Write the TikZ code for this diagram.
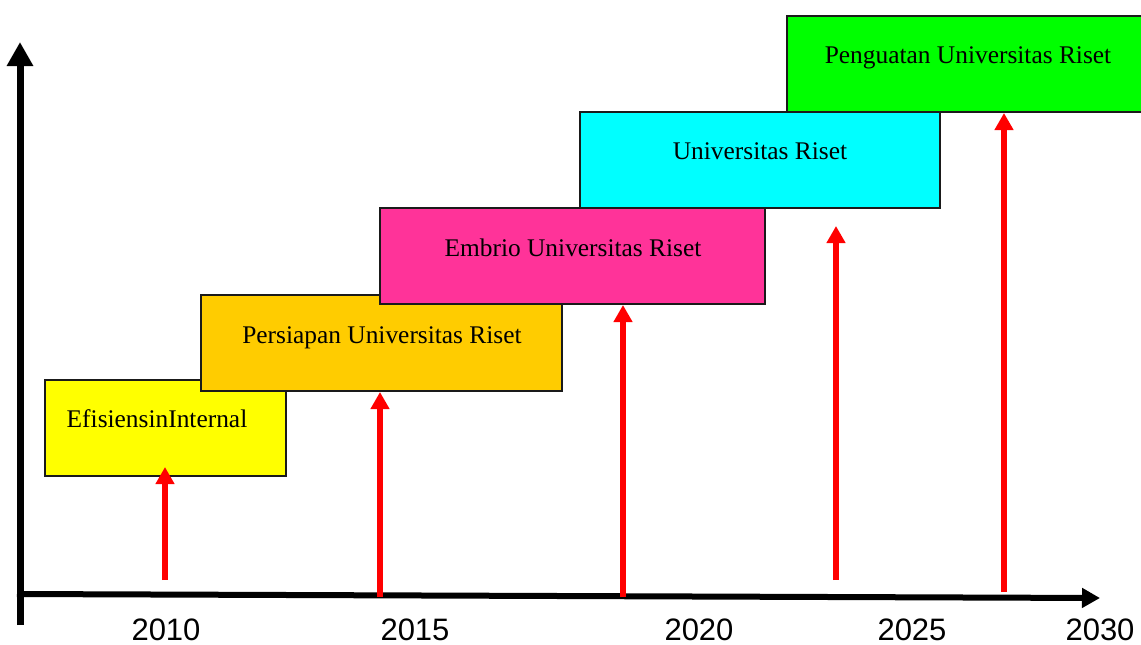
\documentclass[tikz,border=0pt]{standalone}
\usepackage{fontspec}
\setmainfont{Liberation Serif}
\newfontfamily\yearfont{Liberation Sans}
\usetikzlibrary{arrows.meta}
\definecolor{boxyellow}{HTML}{FFFF00}
\definecolor{boxorange}{HTML}{FFCC00}
\definecolor{boxpink}{HTML}{FF3399}
\definecolor{boxcyan}{HTML}{00FFFF}
\definecolor{boxgreen}{HTML}{00FF00}
\definecolor{edgecol}{HTML}{1A1A1A}
\definecolor{arrred}{HTML}{FF0000}
\tikzset{
  stagebox/.style={draw=edgecol, line width=2pt, rectangle, inner sep=0pt, outer sep=0pt, anchor=north west},
  stagelabel/.style={anchor=base, inner sep=0pt, font=\fontsize{25.4}{30}\selectfont, text=black},
  yearlabel/.style={anchor=base, inner sep=0pt, font=\yearfont\fontsize{31}{36}\selectfont, text=black},
  axisline/.style={line width=7pt, black},
  redarrow/.style={line width=5.5pt, arrred, -{Triangle[length=17pt,width=18pt]}}
}
\begin{document}
\begin{tikzpicture}[x=1pt,y=-1pt]
\useasboundingbox (0,0) rectangle (1141,645);
% axes
\coordinate (vbot) at (20,625);
\coordinate (vtop) at (20,42);
\coordinate (hleft) at (17,594);
\coordinate (hright) at (1100,598);
\draw[axisline, -{Triangle[length=24pt,width=25pt]}] (vbot) -- (vtop);
\draw[line width=6pt, black, -{Triangle[length=18pt,width=19pt]}] (hleft) -- (hright);
% year labels
\node[yearlabel] (y2010) at (166,640) {2010};
\node[yearlabel] (y2015) at (415,640) {2015};
\node[yearlabel] (y2020) at (699,640) {2020};
\node[yearlabel] (y2025) at (912,640) {2025};
\node[yearlabel] (y2030) at (1100,640) {2030};
% boxes
\node[stagebox, fill=boxyellow, minimum width=241pt, minimum height=96pt] (byel) at (45,380) {};
\node[stagebox, fill=boxorange, minimum width=361pt, minimum height=96pt] (bora) at (201,295) {};
\node[stagebox, fill=boxpink, minimum width=385pt, minimum height=96pt] (bpin) at (380,208) {};
\node[stagebox, fill=boxcyan, minimum width=360pt, minimum height=96pt] (bcya) at (580,112) {};
\node[stagebox, fill=boxgreen, minimum width=380pt, minimum height=96pt] (bgre) at (787,16) {};
% box labels
\node[stagelabel] (tyel) at (157,427) {EfisiensinInternal};
\node[stagelabel] (tora) at (382,343) {Persiapan Universitas Riset};
\node[stagelabel] (tpin) at (573,256) {Embrio Universitas Riset};
\node[stagelabel] (tcya) at (760,159) {Universitas Riset};
\node[stagelabel] (tgre) at (968,63) {Penguatan Universitas Riset};
% red arrows
\coordinate (a1s) at (165,580); \coordinate (a1e) at (165,467);
\coordinate (a2s) at (380,597); \coordinate (a2e) at (380,392);
\coordinate (a3s) at (623,597); \coordinate (a3e) at (623,305);
\coordinate (a4s) at (836,580); \coordinate (a4e) at (836,226);
\coordinate (a5s) at (1004,592); \coordinate (a5e) at (1004,113);
\draw[redarrow] (a1s) -- (a1e);
\draw[redarrow] (a2s) -- (a2e);
\draw[redarrow] (a3s) -- (a3e);
\draw[redarrow] (a4s) -- (a4e);
\draw[redarrow] (a5s) -- (a5e);
\end{tikzpicture}
\end{document}
